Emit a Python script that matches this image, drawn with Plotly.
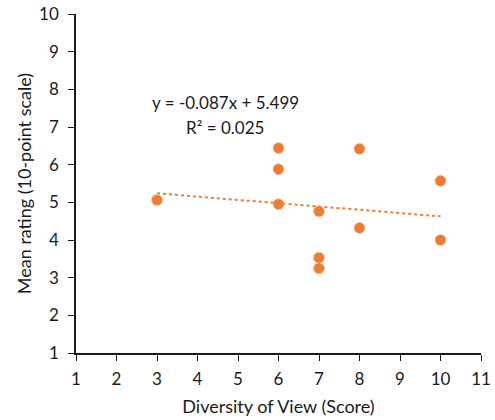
import plotly.graph_objects as go

# Diversity-of-view score vs. mean rating
diversity_score = [3, 6, 6, 6, 7, 7, 7, 8, 8, 10, 10]
mean_rating = [5.06, 6.44, 5.88, 4.95, 4.76, 3.53, 3.25, 6.42, 4.32, 5.57, 4.00]

# Linear trendline coefficients (as reported)
slope = -0.087
intercept = 5.499
r_squared = 0.025

orange = "#ED7D31"
ink = "#1a1a1a"
font_family = "Lato, Open Sans, sans-serif"

x_trend = [min(diversity_score), max(diversity_score)]
y_trend = [slope * x + intercept for x in x_trend]

fig = go.Figure()
fig.add_trace(go.Scatter(
    x=x_trend, y=y_trend, mode="lines",
    line=dict(color=orange, width=2, dash="dot"),
    hoverinfo="skip", showlegend=False,
))
fig.add_trace(go.Scatter(
    x=diversity_score, y=mean_rating, mode="markers",
    marker=dict(color=orange, size=11, line=dict(color="#F6C2A0", width=0.6)),
    showlegend=False,
))

# Trendline equation and fit quality, stacked
label_font = dict(family=font_family, size=17, color=ink)
fig.add_annotation(x=4.68, y=7.64, xref="x", yref="y", showarrow=False,
                   text=f"y = {slope}x + {intercept}", font=label_font)
fig.add_annotation(x=4.68, y=7.0, xref="x", yref="y", showarrow=False,
                   text=f"R² = {r_squared}", font=label_font)

title_font = dict(family=font_family, size=18, color=ink)
axis_common = dict(
    showgrid=False, zeroline=False, automargin=False,
    showline=True, linecolor=ink, linewidth=1.6,
    ticks="outside", ticklen=6, tickwidth=1.3, tickcolor=ink,
    tickfont=dict(family=font_family, size=17, color=ink),
    dtick=1,
)

fig.update_xaxes(
    range=[1, 11], tick0=1, ticklabelstandoff=4,
    title=dict(text="Diversity of View (Score)", standoff=12, font=title_font),
    **axis_common,
)
fig.update_yaxes(
    range=[1, 10], tick0=1, ticklabelstandoff=6,
    title=dict(text="Mean rating (10-point scale)", standoff=3, font=title_font),
    **axis_common,
)

fig.update_layout(
    width=495, height=420,
    margin=dict(l=76, r=14, t=14, b=67),
    paper_bgcolor="white", plot_bgcolor="white",
)

fig.write_html("out.html")
